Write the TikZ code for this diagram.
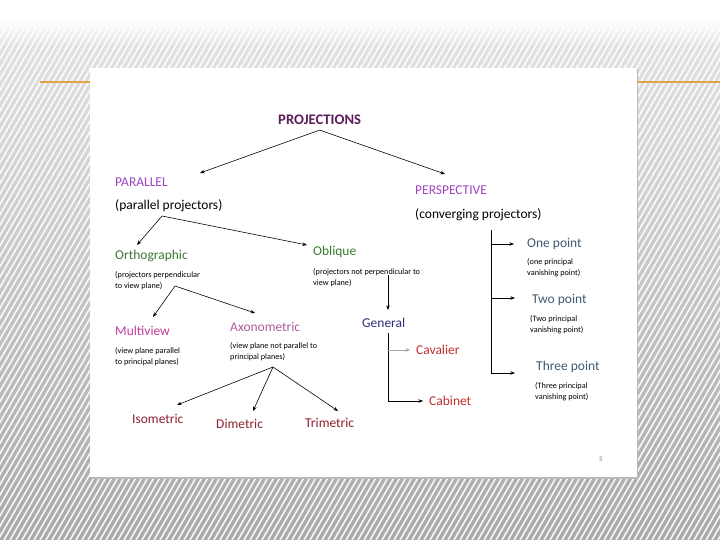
\documentclass[tikz,border=0pt]{standalone}
\usepackage{fontspec}
\setmainfont{Carlito}
\usetikzlibrary{arrows.meta,positioning}
\definecolor{titlepurple}{HTML}{5B1F5B}
\definecolor{branchpurple}{HTML}{9E45BE}
\definecolor{leafgreen}{HTML}{3C7A34}
\definecolor{multipink}{HTML}{C23C9E}
\definecolor{axopink}{HTML}{B25A9E}
\definecolor{genblue}{HTML}{2B2F78}
\definecolor{obred}{HTML}{C0302E}
\definecolor{axored}{HTML}{8E2030}
\definecolor{pointslate}{HTML}{3F5A73}
\definecolor{rule}{HTML}{E3A34A}

\begin{document}
\begin{tikzpicture}[x=0.03cm, y=-0.03cm,
  lbl/.style={anchor=west, inner sep=0pt, font=\fontsize{11.5}{13}\selectfont},
  note/.style={anchor=west, inner sep=0pt, align=left, font=\fontsize{7}{9.4}\selectfont},
  arr/.style={-{Stealth[length=4pt,width=3pt]}, line width=0.5pt}]
\useasboundingbox (0,0) rectangle (720,540);
% slide background
\fill[white] (0,0) rectangle (720,28);
\shade[top color=gray!22, bottom color=gray!68] (0,28) rectangle (720,540);
\shade[top color=white, bottom color=gray!22] (0,20) rectangle (720,45);
\begin{scope}
  \clip (0,28) rectangle (720,540);
  \foreach \i in {-320,-314,...,720}
    \draw[white, line width=1.4pt, opacity=0.9] (\i,540) -- ++(312,-540);
\end{scope}
\draw[rule, line width=1.6pt] (40,82) -- (720,82);
\fill[gray!55] (91,69) rectangle (638,479);
\fill[white] (90,68) rectangle (637,477);

% labels
\node[lbl, font=\bfseries\fontsize{12.5}{14}\selectfont, text=titlepurple] (proj) at (278,120) {PROJECTIONS};
\node[lbl, text=branchpurple] (par) at (115,182) {PARALLEL};
\node[lbl] (parnote) at (115,206) {(parallel projectors)};
\node[lbl, text=branchpurple] (persp) at (415,190) {PERSPECTIVE};
\node[lbl] (perspnote) at (415,215) {(converging projectors)};
\node[lbl, text=leafgreen] (ortho) at (115,256) {Orthographic};
\node[note] (orthonote) at (115,280.5) {(projectors perpendicular\\to view plane)};
\node[lbl, text=leafgreen] (obl) at (313,252) {Oblique};
\node[note] (oblnote) at (313,277.5) {(projectors not perpendicular to\\view plane)};
\node[lbl, text=multipink] (multi) at (115,331) {Multiview};
\node[note] (multinote) at (115,356.5) {(view plane parallel\\to principal planes)};
\node[lbl, text=axopink] (axo) at (230,327) {Axonometric};
\node[note] (axonote) at (230,351.5) {(view plane not parallel to\\principal planes)};
\node[lbl, text=genblue] (gen) at (362,323) {General};
\node[lbl, text=obred] (cav) at (416,350) {Cavalier};
\node[lbl, text=obred] (cab) at (429,401) {Cabinet};
\node[lbl, text=axored] (iso) at (132,419) {Isometric};
\node[lbl, text=axored] (di) at (216,424) {Dimetric};
\node[lbl, text=axored] (tri) at (305,423) {Trimetric};
\node[lbl, text=pointslate] (one) at (527,244) {One point};
\node[note] (onenote) at (527,268) {(one principal\\vanishing point)};
\node[lbl, text=pointslate] (two) at (532,300) {Two point};
\node[note] (twonote) at (530,325) {(Two principal\\vanishing point)};
\node[lbl, text=pointslate] (three) at (536,367) {Three point};
\node[note] (threenote) at (535,391.5) {(Three principal\\vanishing point)};
\node[text=gray, font=\fontsize{6}{7}\selectfont] (pg) at (601,459) {5};

% connectors
\draw[arr] ([shift={(0,5)}]proj.south) -- ([shift={(85,-9)}]par.west);
\draw[arr] ([shift={(0,5)}]proj.south) -- ([shift={(30,-16)}]persp.west);
\draw[arr] ([shift={(47,10)}]parnote.west) -- ([shift={(22,-11)}]ortho.west);
\draw[arr] ([shift={(47,10)}]parnote.west) -- ([shift={(-6,-7)}]obl.west);
\draw[arr] ([shift={(60,5.5)}]orthonote.west) -- ([shift={(38,-14)}]multi.west);
\draw[arr] ([shift={(60,5.5)}]orthonote.west) -- ([shift={(25,-14)}]axo.west);
\draw[arr] ([shift={(75,-2.5)}]oblnote.west) -- ([shift={(26,-13)}]gen.west);
\draw[arr] ([shift={(26,10)}]gen.west) |- ([xshift=-5pt]cab.west);
\draw[arr, gray!70] ([shift={(26,27)}]gen.west) -- ([xshift=-5pt]cav.west);
\draw[arr] ([shift={(76,15)}]perspnote.west) |- ([shift={(-21,6)}]three.west);
\draw[arr] ([shift={(76,29)}]perspnote.west) -- ([shift={(-13,0)}]one.west);
\draw[arr] ([shift={(76,83)}]perspnote.west) -- ([shift={(-17,-2)}]two.west);
\draw[arr] ([shift={(43,15.5)}]axonote.west) -- ([shift={(45,-14)}]iso.west);
\draw[arr] ([shift={(43,15.5)}]axonote.west) -- ([shift={(37,-13)}]di.west);
\draw[arr] ([shift={(43,15.5)}]axonote.west) -- ([shift={(33,-12)}]tri.west);
\end{tikzpicture}
\end{document}
